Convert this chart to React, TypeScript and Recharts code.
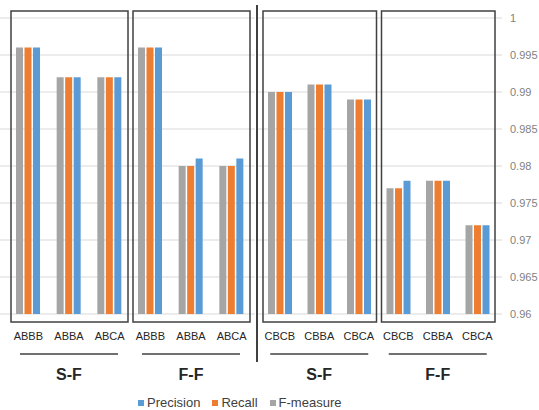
import { Bar, BarChart, CartesianGrid, Legend, ReferenceArea, XAxis, YAxis } from 'recharts'

// values
const leftCategories = ['ABBB', 'ABBA', 'ABCA', 'ABBB', 'ABBA', 'ABCA']
const rightCategories = ['CBCB', 'CBBA', 'CBCA', 'CBCB', 'CBBA', 'CBCA']
const groups = ['S-F', 'F-F']

const precision = [0.996, 0.992, 0.992, 0.996, 0.981, 0.981, 0.99, 0.991, 0.989, 0.978, 0.978, 0.972]
const recall = [0.996, 0.992, 0.992, 0.996, 0.98, 0.98, 0.99, 0.991, 0.989, 0.977, 0.978, 0.972]
const fMeasure = [0.996, 0.992, 0.992, 0.996, 0.98, 0.98, 0.99, 0.991, 0.989, 0.977, 0.978, 0.972]

const yTicks = [0.96, 0.965, 0.97, 0.975, 0.98, 0.985, 0.99, 0.995, 1]

const series = [
  { key: 'fMeasure', name: 'F-measure', color: '#a5a5a5' },
  { key: 'recall', name: 'Recall', color: '#ed7d31' },
  { key: 'precision', name: 'Precision', color: '#5b9bd5' }
]

const FONT = '"Liberation Sans", Arial, sans-serif'

type Row = {
  id: string
  name: string
  group: string
  precision: number
  recall: number
  fMeasure: number
}

const buildRows = (categories: string[], offset: number): Row[] =>
  categories.map((name, i) => {
    const group = groups[Math.floor(i / 3)]
    return {
      id: `${group}-${name}`,
      name,
      group,
      precision: precision[offset + i],
      recall: recall[offset + i],
      fMeasure: fMeasure[offset + i]
    }
  })

const leftRows = buildRows(leftCategories, 0)
const rightRows = buildRows(rightCategories, 6)

const makeTick = (rows: Row[], half: number) => (props: any) => {
  const { x, y, payload } = props
  const row = rows[payload.index]
  if (!row) return null
  return (
    <g>
      <text x={x} y={y + 26} textAnchor="middle" fontSize={11} fill="#262626" fontFamily={FONT}>
        {row.name}
      </text>
      {payload.index % 3 === 1 && (
        <g>
          <line x1={x - half} x2={x + half} y1={y + 40} y2={y + 40} stroke="#404040" strokeWidth={1.5} />
          <text
            x={x}
            y={y + 66}
            textAnchor="middle"
            fontSize={16}
            fontWeight="bold"
            fill="#262626"
            fontFamily={FONT}
          >
            {row.group}
          </text>
        </g>
      )}
    </g>
  )
}

const groupBox = (props: any) => (
  <rect
    x={props.x + 3}
    y={props.y - 7}
    width={props.width - 5}
    height={props.height + 15}
    fill="none"
    stroke="#404040"
    strokeWidth={1.5}
  />
)

const gridLine = (extendLeft: number, extendRight: number) => (props: any) => (
  <line
    key={`g-${props.y1}`}
    x1={props.x1 - extendLeft}
    x2={props.x2 + extendRight}
    y1={props.y1}
    y2={props.y2}
    stroke="#d9d9d9"
    strokeWidth={1}
  />
)

const LegendContent = () => (
  <div style={{ display: 'flex', fontFamily: FONT, fontSize: 13, color: '#404040', lineHeight: '16px' }}>
    {[...series].reverse().map((s) => (
      <div key={s.key} style={{ display: 'flex', alignItems: 'center', marginRight: 12 }}>
        <span style={{ width: 6, height: 6, background: s.color, marginRight: 3, display: 'inline-block' }} />
        <span>{s.name}</span>
      </div>
    ))}
  </div>
)

const boxes = (rows: Row[]) =>
  [0, 3].map((start) => (
    <ReferenceArea
      key={start}
      x1={rows[start].id}
      x2={rows[start + 2].id}
      ifOverflow="visible"
      shape={groupBox}
    />
  ))

export default function App() {
  return (
    <div style={{ position: 'absolute', left: 0, top: 0, width: 539, height: 410, background: '#fff' }}>
      <div style={{ position: 'absolute', left: 0, top: 0 }}>
        <BarChart
          width={258}
          height={410}
          data={leftRows}
          margin={{ top: 18, right: 6, bottom: 66, left: 8 }}
          barSize={7}
          barGap={1.5}
          style={{ fontFamily: FONT }}
        >
          <CartesianGrid vertical={false} horizontal={gridLine(8, 3)} />
          <XAxis
            dataKey="id"
            interval={0}
            axisLine={false}
            tickLine={false}
            tickSize={0}
            tickMargin={0}
            height={30}
            tick={makeTick(leftRows, 49)}
          />
          <YAxis hide domain={[0.96, 1]} ticks={yTicks} allowDataOverflow />
          {series.map((s) => (
            <Bar key={s.key} dataKey={s.key} name={s.name} fill={s.color} isAnimationActive={false} />
          ))}
          {boxes(leftRows)}
          <Legend
            layout="horizontal"
            verticalAlign="middle"
            align="center"
            content={LegendContent}
            wrapperStyle={{ left: 138, top: 395, width: 260, height: 16 }}
          />
        </BarChart>
      </div>
      <div style={{ position: 'absolute', left: 256, top: 5, width: 1.5, height: 357, background: '#404040' }} />
      <div style={{ position: 'absolute', left: 258, top: 0 }}>
        <BarChart
          width={281}
          height={410}
          data={rightRows}
          margin={{ top: 18, right: 0, bottom: 66, left: 2 }}
          barSize={7}
          barGap={1.5}
          style={{ fontFamily: FONT }}
        >
          <CartesianGrid vertical={false} horizontal={gridLine(2, 5)} />
          <XAxis
            dataKey="id"
            interval={0}
            axisLine={false}
            tickLine={false}
            tickSize={0}
            tickMargin={0}
            height={30}
            tick={makeTick(rightRows, 49)}
          />
          <YAxis
            orientation="right"
            width={42}
            domain={[0.96, 1]}
            ticks={yTicks}
            allowDataOverflow
            axisLine={false}
            tickLine={false}
            tickSize={0}
            tickMargin={13}
            tick={{ fill: '#7f7f7f', fontSize: 11, fontFamily: FONT }}
          />
          {series.map((s) => (
            <Bar key={s.key} dataKey={s.key} name={s.name} fill={s.color} isAnimationActive={false} />
          ))}
          {boxes(rightRows)}
        </BarChart>
      </div>
    </div>
  )
}
